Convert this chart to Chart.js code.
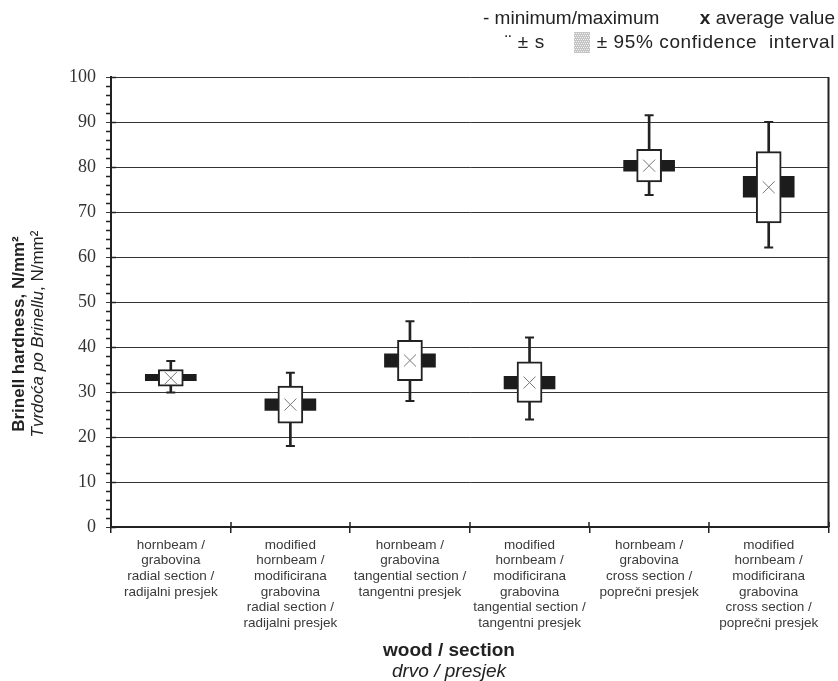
<!DOCTYPE html>
<html>
<head>
<meta charset="utf-8">
<script src="https://cdn.jsdelivr.net/npm/chart.js@4.4.0/dist/chart.umd.min.js"></script>
<style>
  html, body { margin: 0; padding: 0; background: #fff; }
</style>
</head>
<body>
<canvas id="c" width="838" height="681"></canvas>
<script>
// values (N/mm2)
const categories = [
  ['hornbeam /', 'grabovina', 'radial section /', 'radijalni presjek'],
  ['modified', 'hornbeam /', 'modificirana', 'grabovina', 'radial section /', 'radijalni presjek'],
  ['hornbeam /', 'grabovina', 'tangential section /', 'tangentni presjek'],
  ['modified', 'hornbeam /', 'modificirana', 'grabovina', 'tangential section /', 'tangentni presjek'],
  ['hornbeam /', 'grabovina', 'cross section /', 'poprečni presjek'],
  ['modified', 'hornbeam /', 'modificirana', 'grabovina', 'cross section /', 'poprečni presjek']
];
const minValues = [29.9, 18.0, 28.0, 23.9, 73.8, 62.1];
const maxValues = [36.9, 34.3, 45.7, 42.1, 91.5, 90.0];
const meanValues = [33.1, 27.2, 37.0, 32.1, 80.3, 75.5];
const sdLow = [31.3, 23.1, 32.5, 27.7, 76.7, 67.6];
const sdHigh = [35.0, 31.3, 41.5, 36.7, 83.9, 83.4];
const ciLow = [32.5, 25.9, 35.5, 30.7, 79.1, 73.3];
const ciHigh = [33.9, 28.5, 38.5, 33.5, 81.5, 77.9];
const yMin = 0, yMax = 100, yStep = 10, yMinorStep = 2;

const sans = 'Arial, "Liberation Sans", sans-serif';
const narrow = '"Liberation Sans Narrow", "Arial Narrow", Arial, sans-serif';
const ink = '#222';

const ranges = (lo, hi) => lo.map((v, i) => [v, hi[i]]);

// minor ticks, frame and the little extensions of the major ticks
const axisExtras = {
  id: 'axisExtras',
  afterDraw(chart) {
    const { ctx, chartArea: a, scales: { x, y } } = chart;
    ctx.save();
    ctx.strokeStyle = ink;
    ctx.lineWidth = 1.5;
    ctx.beginPath();
    for (let v = yMin; v <= yMax; v += yMinorStep) {
      const py = Math.round(y.getPixelForValue(v)) + 0.5;
      if (v % yStep === 0) {
        ctx.moveTo(a.left, py);
        ctx.lineTo(a.left + 5, py);
      } else {
        ctx.moveTo(a.left - 5, py);
        ctx.lineTo(a.left, py);
      }
    }
    for (let i = 0; i <= categories.length; i++) {
      const px = Math.round(x.getPixelForValue(i - 0.5));
      ctx.moveTo(px, a.bottom);
      ctx.lineTo(px, a.bottom - 5);
    }
    ctx.stroke();
    ctx.lineWidth = 2;
    ctx.beginPath();
    ctx.moveTo(a.right, a.top);
    ctx.lineTo(a.right, a.bottom);
    ctx.stroke();
    ctx.restore();
  }
};

const texts = {
  id: 'texts',
  afterDraw(chart) {
    const { ctx } = chart;
    ctx.save();
    ctx.fillStyle = ink;
    ctx.textBaseline = 'middle';

    // legend
    ctx.font = '19px ' + sans;
    ctx.textAlign = 'left';
    ctx.fillText('- minimum/maximum', 483, 19);
    ctx.textAlign = 'right';
    ctx.fillText('average value', 835, 19);
    const w1 = ctx.measureText('average value').width;
    ctx.font = 'bold 19px ' + sans;
    ctx.fillText('x ', 835 - w1, 19);
    ctx.font = '19px ' + sans;
    ctx.letterSpacing = '0.6px';
    ctx.fillText('± 95% confidence  interval', 835, 43);
    ctx.textAlign = 'left';
    ctx.fillText('¨ ± s', 505, 43);
    ctx.letterSpacing = '0px';
    ctx.fillStyle = '#c4c4c4';
    ctx.fillRect(574, 32, 16, 21);
    ctx.fillStyle = '#f2f2f2';
    for (let yy = 33; yy < 53; yy += 2) {
      for (let xx = 574 + ((yy - 33) / 2) % 2; xx < 590; xx += 2) ctx.fillRect(xx, yy, 1, 1);
    }

    // y title
    ctx.fillStyle = ink;
    ctx.save();
    ctx.rotate(-Math.PI / 2);
    ctx.textAlign = 'center';
    ctx.font = 'bold 17px ' + sans;
    ctx.fillText('Brinell hardness, N/mm²', -334, 19);
    ctx.font = 'italic 17px ' + sans;
    const p1 = 'Tvrdoća po Brinellu';
    const wA = ctx.measureText(p1).width;
    ctx.font = '17px ' + sans;
    const p2 = ', N/mm²';
    const wB = ctx.measureText(p2).width;
    ctx.textAlign = 'left';
    const start = -334 - (wA + wB) / 2;
    ctx.font = 'italic 17px ' + sans;
    ctx.fillText(p1, start, 38);
    ctx.font = '17px ' + sans;
    ctx.fillText(p2, start + wA, 38);
    ctx.restore();

    // x title
    ctx.textAlign = 'center';
    ctx.font = 'bold 19px ' + sans;
    ctx.fillText('wood / section', 449, 651);
    ctx.font = 'italic 19px ' + sans;
    ctx.fillText('drvo / presjek', 449, 672);
    ctx.restore();
  }
};

new Chart(document.getElementById('c'), {
  type: 'bar',
  data: {
    labels: categories,
    datasets: [
      {
        type: 'line', data: meanValues, showLine: false, order: 0,
        pointStyle: 'crossRot', pointRadius: 8.5, borderColor: '#777', borderWidth: 1
      },
      {
        type: 'line', data: maxValues, showLine: false, order: 1,
        pointStyle: 'line', pointRadius: 4.5, borderColor: ink, borderWidth: 2
      },
      {
        type: 'line', data: minValues, showLine: false, order: 1,
        pointStyle: 'line', pointRadius: 4.5, borderColor: ink, borderWidth: 2
      },
      {
        data: ranges(sdLow, sdHigh), order: 2, grouped: false, barThickness: 25,
        backgroundColor: '#fff', borderColor: ink, borderWidth: 2, borderSkipped: false
      },
      {
        data: ranges(ciLow, ciHigh), order: 3, grouped: false, barThickness: 51,
        backgroundColor: '#1c1c1c'
      },
      {
        data: ranges(minValues, maxValues), order: 4, grouped: false, barThickness: 2,
        backgroundColor: ink
      }
    ]
  },
  options: {
    responsive: false,
    animation: false,
    devicePixelRatio: 1,
    layout: { padding: { top: 77, right: 4, left: 0, bottom: 0 } },
    plugins: { legend: { display: false }, tooltip: { enabled: false } },
    scales: {
      x: {
        offset: true,
        grid: { offset: true, drawOnChartArea: false, tickLength: 6, color: ink, lineWidth: 1.5 },
        border: { color: ink, width: 2 },
        ticks: { color: '#3a3a3a', font: { family: narrow, size: 13.5, lineHeight: 1.16 }, padding: 4, maxRotation: 0, autoSkip: false },
        afterFit(s) { s.height = 154; }
      },
      y: {
        min: yMin, max: yMax,
        grid: { color: '#333', lineWidth: 1, tickLength: 5 },
        border: { color: ink, width: 2 },
        ticks: { stepSize: yStep, color: '#333', font: { family: '"Liberation Serif", "Times New Roman", serif', size: 18 }, padding: 10 },
        afterFit(s) { s.width = 111; }
      }
    }
  },
  plugins: [axisExtras, texts]
});
</script>
</body>
</html>
